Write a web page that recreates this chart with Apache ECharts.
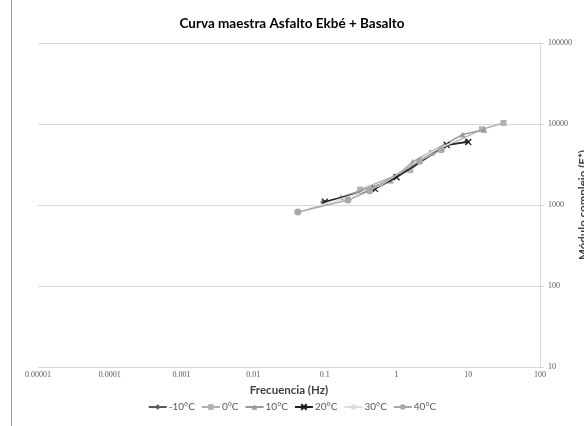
<!DOCTYPE html>
<html>
<head>
<meta charset="utf-8">
<script src="https://cdn.jsdelivr.net/npm/echarts@6/dist/echarts.min.js"></script>
<style>
  html, body { margin: 0; padding: 0; background: #fff; }
  #chart { width: 584px; height: 426px; }
</style>
</head>
<body>
<div id="chart"></div>
<script>
// Master curve data: frequency (Hz) and complex modulus |E*| per test temperature
const seriesNames = ['-10°C', '0°C', '10°C', '20°C', '30°C', '40°C'];

const freqM10 = [0.095, 0.475, 0.95, 4.75, 9.5];
const modM10  = [1080, 1560, 2250, 5400, 6100];

const freq0 = [0.31, 1.55, 3.1, 15.5, 31];
const mod0  = [1550, 2700, 4400, 8600, 10300];

const freq10 = [0.167, 0.83, 1.67, 8.3, 16.7];
const mod10  = [1250, 2000, 3400, 7400, 8500];

const freq20 = [0.1, 0.5, 1, 5, 10];
const mod20  = [1100, 1580, 2200, 5500, 6000];

const freq30 = [0.06, 0.3, 0.6, 3, 6];
const mod30  = [900, 1400, 1750, 4500, 5900];

const freq40 = [0.042, 0.21, 0.42, 2.1, 4.2];
const mod40  = [820, 1150, 1500, 3500, 4800];

const xTickLabels = ['0.00001', '0.0001', '0.001', '0.01', '0.1', '1', '10', '100'];
const yTickLabels = ['10', '100', '1000', '10000', '100000'];

const pairs = (f, m) => f.map((v, i) => [v, m[i]]);

const styles = [
  { color: '#595959', symbol: 'diamond', size: 6 },
  { color: '#b2b2b2', symbol: 'rect', size: 6 },
  { color: '#9a9a9a', symbol: 'triangle', size: 6 },
  { color: '#1e1e1e', symbol: 'path://M0,0L10,10M10,0L0,10', size: 6 },
  { color: '#dedede', symbol: 'none', size: 0 },
  { color: '#a8a8a8', symbol: 'circle', size: 7 }
];
const dataSets = [
  pairs(freqM10, modM10), pairs(freq0, mod0), pairs(freq10, mod10),
  pairs(freq20, mod20), pairs(freq30, mod30), pairs(freq40, mod40)
];

const labelFont = { fontFamily: 'Liberation Serif', fontSize: 8, color: '#595959' };

const chart = echarts.init(document.getElementById('chart'), null, { renderer: 'canvas' });
chart.setOption({
  animation: false,
  backgroundColor: '#ffffff',
  title: {
    text: 'Curva maestra Asfalto Ekbé + Basalto',
    left: 'center',
    top: 12,
    textStyle: { fontFamily: 'Lato', fontWeight: 'bold', fontSize: 13.5, color: '#000' }
  },
  grid: { left: 38, right: 44, top: 43, bottom: 59, containLabel: false, outerBoundsMode: 'none' },
  xAxis: {
    type: 'log',
    logBase: 10,
    min: 0.00001,
    max: 100,
    name: 'Frecuencia (Hz)',
    nameLocation: 'middle',
    nameGap: 8,
    nameTextStyle: { fontFamily: 'Lato', fontWeight: 'bold', fontSize: 11.5, color: '#404040' },
    axisLine: { show: false },
    axisTick: { show: false },
    splitLine: { show: false },
    axisLabel: {
      ...labelFont,
      margin: 4,
      formatter: (v) => {
        const k = Math.round(Math.log10(v)) + 5;
        return xTickLabels[k] !== undefined ? xTickLabels[k] : '';
      }
    }
  },
  yAxis: {
    type: 'log',
    logBase: 10,
    min: 10,
    max: 100000,
    position: 'right',
    name: 'Módulo complejo (E*)',
    nameLocation: 'middle',
    nameGap: 37,
    nameRotate: 90,
    nameMoveOverlap: false,
    nameTextStyle: { fontFamily: 'Lato', fontWeight: 'bold', fontSize: 11.5, color: '#404040' },
    axisLine: { show: true, lineStyle: { color: '#d9d9d9', width: 1 } },
    axisTick: { show: true, length: 4, lineStyle: { color: '#d9d9d9' } },
    splitLine: { show: true, lineStyle: { color: '#d9d9d9', width: 1 } },
    axisLabel: {
      ...labelFont,
      margin: 8,
      formatter: (v) => {
        const k = Math.round(Math.log10(v)) - 1;
        return yTickLabels[k] !== undefined ? yTickLabels[k] : '';
      }
    }
  },
  legend: {
    bottom: 9,
    left: 'center',
    itemWidth: 18,
    itemHeight: 7,
    itemGap: 6,
    textStyle: { fontFamily: 'Lato', fontSize: 10, color: '#595959', padding: [0, 0, 0, -3] },
    data: seriesNames
  },
  graphic: [{
    type: 'line',
    shape: { x1: 11.5, y1: 0, x2: 11.5, y2: 426 },
    style: { stroke: '#9a9a9a', lineWidth: 1 }
  }],
  series: seriesNames.map((name, i) => ({
    name,
    type: 'line',
    data: dataSets[i],
    symbol: styles[i].symbol,
    symbolSize: styles[i].size,
    showSymbol: styles[i].symbol !== 'none',
    lineStyle: { color: styles[i].color, width: 1.5 },
    itemStyle: { color: styles[i].color, borderColor: styles[i].color, borderWidth: i === 3 ? 1.2 : 0 },
    z: 2 + i
  }))
});
</script>
</body>
</html>
